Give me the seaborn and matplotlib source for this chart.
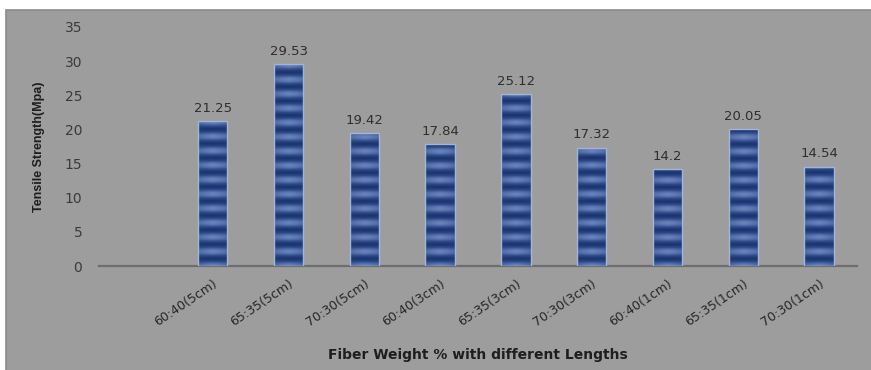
import numpy as np
import pandas as pd
import matplotlib
matplotlib.use("Agg")
import matplotlib.pyplot as plt
import seaborn as sns
from matplotlib.colors import LinearSegmentedColormap

# Fiber ratio / length combinations and measured tensile strength (MPa)
categories = ["60:40(5cm)", "65:35(5cm)", "70:30(5cm)",
              "60:40(3cm)", "65:35(3cm)", "70:30(3cm)",
              "60:40(1cm)", "65:35(1cm)", "70:30(1cm)"]
strength = [21.25, 29.53, 19.42, 17.84, 25.12, 17.32, 14.2, 20.05, 14.54]
value_labels = ["21.25", "29.53", "19.42", "17.84", "25.12", "17.32", "14.2", "20.05", "14.54"]
y_ticks = [0, 5, 10, 15, 20, 25, 30, 35]

df = pd.DataFrame({"combo": categories, "strength": strength})

sns.set_theme(style="white")
plt.rcParams["font.family"] = ["DejaVu Sans"]

BG = "#9d9d9d"
fig = plt.figure(figsize=(8.71, 3.70), dpi=100, facecolor="white")
# grey chart area with a white margin at top/left
fig.patches.append(plt.Rectangle((6 / 871, -0.01), 1, 1.01 - 10 / 370, transform=fig.transFigure,
                                 facecolor=BG, edgecolor="#8a8a8a", linewidth=1.2, zorder=-10))

ax = fig.add_axes([99 / 871, 1 - 266 / 370, (857 - 99) / 871, (266 - 27) / 370])
ax.set_facecolor(BG)

sns.barplot(data=df, x="combo", y="strength", color="#233f7c", width=0.39,
            saturation=1, ax=ax, zorder=2)

ax.set_xlim(-1.5, 8.5)
ax.set_ylim(0, 35)

# striped fill for each bar
stripe_cmap = LinearSegmentedColormap.from_list("stripe", ["#1c336a", "#2d4c8e", "#6a84ba"])
for p in ax.patches:
    x0, y0 = p.get_x(), p.get_y()
    w, h = p.get_width(), p.get_height()
    ys = np.linspace(y0, y0 + h, 400)
    xs = np.linspace(0, 1, 40)
    stripes = 0.5 + 0.5 * np.cos(2 * np.pi * ys / 2.1)
    stripes = stripes ** 0.7
    side = 1 - np.abs(xs - 0.5) * 2
    img = np.outer(stripes, 0.6 + 0.4 * side ** 0.5) + 0.15 * (1 - side[None, :] ** 0.3)
    im = ax.imshow(img, extent=[x0, x0 + w, y0, y0 + h], origin="lower", aspect="auto",
                   cmap=stripe_cmap, vmin=0, vmax=1, zorder=3, interpolation="bilinear")
    im.set_clip_path(p)
    p.set_edgecolor("#a3b6d8")
    p.set_linewidth(1.0)
    p.set_zorder(4)
    p.set_facecolor("none")

for i, (v, lab) in enumerate(zip(strength, value_labels)):
    ax.annotate(lab, (i, v), xytext=(0, 4.5), textcoords="offset points",
                ha="center", va="bottom", fontsize=9.5, color="#2e2e2e", zorder=5)

for s in ["top", "right", "left"]:
    ax.spines[s].set_visible(False)
ax.spines["bottom"].set_color("#6e6e6e")
ax.spines["bottom"].set_linewidth(1.6)

ax.set_yticks(y_ticks)
ax.set_yticklabels([str(t) for t in y_ticks], fontsize=10, color="#3a3a3a")
ax.tick_params(axis="y", length=0, pad=12)
ax.tick_params(axis="x", length=0, pad=8)
ax.set_xticks(range(len(categories)))
ax.set_xticklabels(categories, rotation=34, ha="right", rotation_mode="anchor",
                   fontsize=9, color="#262626")

ax.set_ylabel("Tensile Strength(Mpa)", fontsize=9, fontweight="bold", color="#1e1e1e",
              family=["Liberation Sans"])
ax.yaxis.set_label_coords(-0.071, 0.5)
ax.set_xlabel("Fiber Weight % with different Lengths", fontsize=10, fontweight="bold",
              color="#1e1e1e")
ax.xaxis.set_label_coords((478 - 99) / 758, -(348 - 266) / 239)

fig.savefig("out.png", dpi=100, facecolor="white")
